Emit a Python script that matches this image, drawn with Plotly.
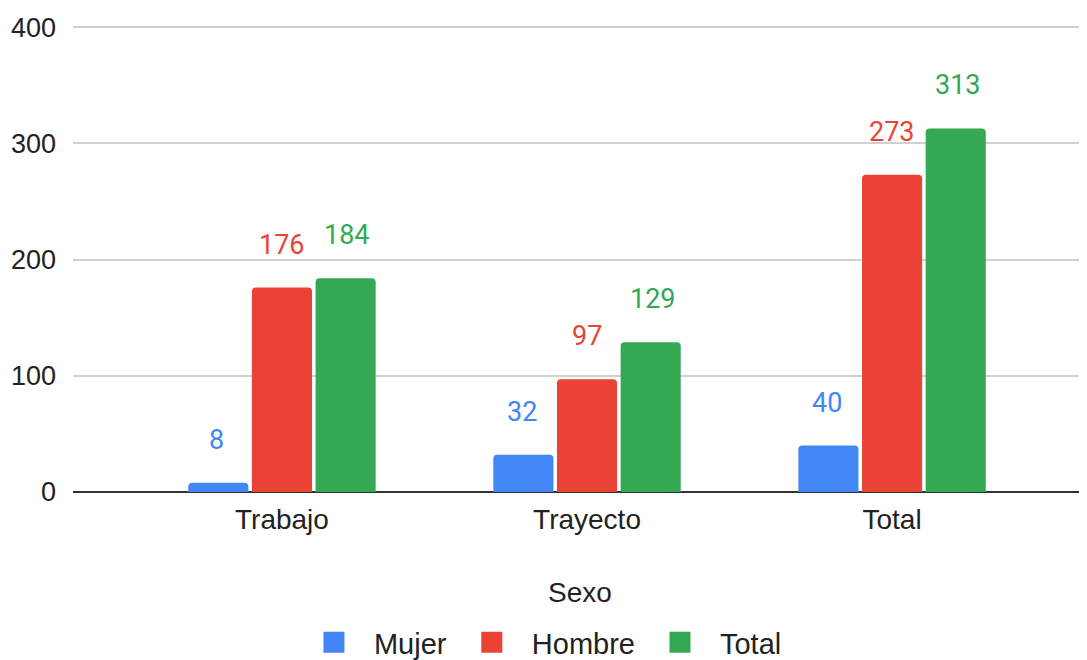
import plotly.graph_objects as go

categories = ["Trabajo", "Trayecto", "Total"]
series_names = ["Mujer", "Hombre", "Total"]
mujer = [8, 32, 40]
hombre = [176, 97, 273]
total = [184, 129, 313]
y_ticks = [0, 100, 200, 300, 400]

values = [mujer, hombre, total]
colors = ["#4285F4", "#EA4335", "#34A853"]

fig = go.Figure()
for name, vals, col in zip(series_names, values, colors):
    fig.add_trace(go.Bar(
        x=categories, y=vals, name=name, marker=dict(color=col, line=dict(width=0)),
        showlegend=False, legendgroup=name,
    ))
# legend entries with larger square swatches
for name, col in zip(series_names, colors):
    fig.add_trace(go.Scatter(
        x=[None], y=[None], mode="markers", name=name, legendgroup=name,
        marker=dict(symbol="square", size=16, color=col, line=dict(color=col, width=5)),
        hoverinfo="skip",
    ))

annotations = []
for i, (vals, col) in enumerate(zip(values, colors)):
    for c, v in zip(categories, vals):
        annotations.append(dict(
            x=c, y=v, text=str(v), showarrow=False, xref="x", yref="y",
            xshift=(i - 1) * 65.5, yshift=43, yanchor="middle",
            font=dict(family="Roboto", size=27, color=col),
        ))

fig.update_layout(
    width=1079, height=652,
    margin=dict(l=65, r=0, t=17, b=168, autoexpand=False),
    paper_bgcolor="white", plot_bgcolor="white",
    font=dict(family="Liberation Sans, Arial", size=28, color="#222"),
    barmode="group", bargap=0.374, bargroupgap=0.056, barcornerradius=4,
    xaxis=dict(
        type="category", range=[-0.685, 2.639], showgrid=False, automargin=False,
        ticks="", tickfont=dict(size=28, color="#222"), ticklabelstandoff=8,
        title=dict(text="Sexo", font=dict(size=28, color="#222"), standoff=48),
    ),
    yaxis=dict(
        range=[0, 402], tickvals=y_ticks, showgrid=True, gridcolor="#d0d0d0",
        gridwidth=1.5, zeroline=True, zerolinecolor="#333333", zerolinewidth=2,
        tickfont=dict(size=27, color="#222"), ticks="", ticklabelstandoff=16,
        automargin=False,
    ),
    legend=dict(orientation="h", x=0.461, xanchor="center", y=-0.322, yanchor="middle",
                font=dict(size=29, color="#222"), itemwidth=70, traceorder="normal",
                itemsizing="trace"),
    annotations=annotations,
    showlegend=True,
)

fig.write_html("out.html")
